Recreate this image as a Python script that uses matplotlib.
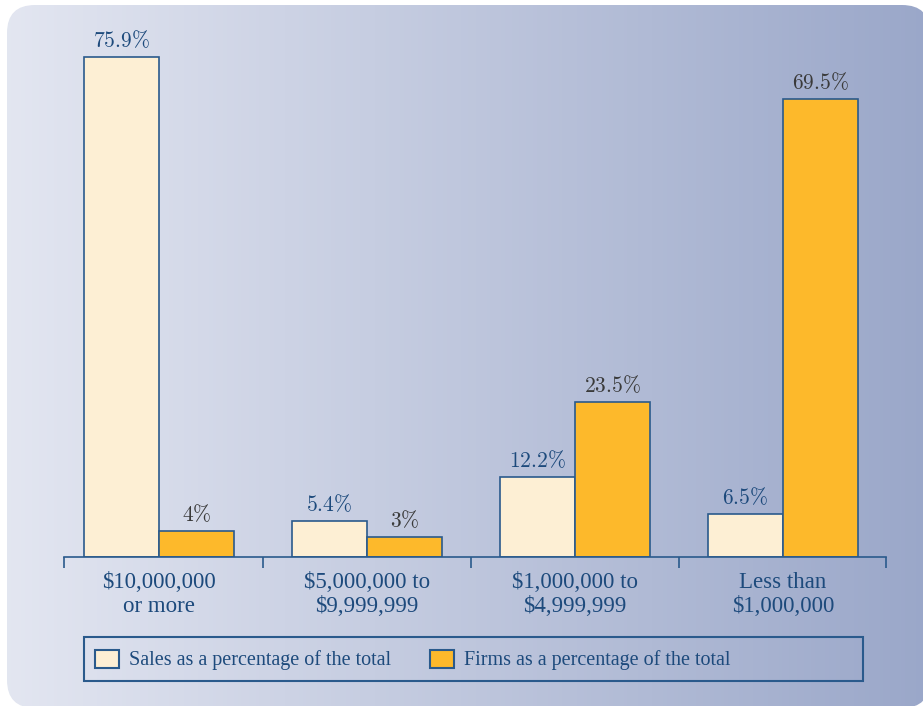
import numpy as np
import matplotlib
matplotlib.use("Agg")
import matplotlib.pyplot as plt
from matplotlib.patches import FancyBboxPatch, Patch, Rectangle

plt.rcParams['mathtext.fontset'] = 'cm'

categories = ["$10,000,000\nor more", "$5,000,000 to\n$9,999,999",
              "$1,000,000 to\n$4,999,999", "Less than\n$1,000,000"]
sales_pct = [75.9, 5.4, 12.2, 6.5]
firms_pct = [4, 3, 23.5, 69.5]
sales_labels = ["75.9%", "5.4%", "12.2%", "6.5%"]
firms_labels = ["4%", "3%", "23.5%", "69.5%"]

navy = "#2a5a8c"
text_blue = "#1d4a7c"
sales_color = "#fdefd4"
firms_color = "#fdb92b"

W, H = 923, 706
fig = plt.figure(figsize=(W / 100, H / 100), dpi=100)

# background panel with a left-to-right gradient and rounded corners
bg = fig.add_axes([0, 0, 1, 1])
bg.set_xlim(0, W)
bg.set_ylim(H, 0)
bg.axis('off')
grad = np.linspace(0, 1, 256).reshape(1, -1)
left = np.array([0.890, 0.902, 0.945])
right = np.array([0.604, 0.655, 0.788])
img = left[None, None, :] * (1 - grad[..., None]) + right[None, None, :] * grad[..., None]
im = bg.imshow(img, extent=(7, 930, 708, 5), aspect='auto')
panel = FancyBboxPatch((7, 5), 923, 703,
                       boxstyle="round,pad=0,rounding_size=28",
                       transform=bg.transData, facecolor='none', edgecolor='none')
bg.add_patch(panel)
im.set_clip_path(panel)

# legend box outline
bg.add_patch(Rectangle((84, 637), 863 - 84, 681 - 637, facecolor='none',
                       edgecolor=navy, linewidth=1.5))

# main bar chart
ax = fig.add_axes([64 / W, 1 - 557 / H, (886 - 64) / W, (557 - 30) / H])
ax.patch.set_alpha(0)
x = np.arange(len(categories))
w = 0.36
ax.bar(x - w / 2, sales_pct, w, color=sales_color, edgecolor=navy, linewidth=1.2)
ax.bar(x + w / 2, firms_pct, w, color=firms_color, edgecolor=navy, linewidth=1.2)

serif = ['Liberation Serif', 'DejaVu Serif']
for i in range(len(categories)):
    ax.text(x[i] - w / 2, sales_pct[i] + 0.9, '$' + sales_labels[i].replace('%', r'\%') + '$',
            ha='center', va='bottom', fontsize=15.5, color=text_blue)
    ax.text(x[i] + w / 2, firms_pct[i] + 0.9, '$' + firms_labels[i].replace('%', r'\%') + '$',
            ha='center', va='bottom', fontsize=15.5, color='#3a3a3a')

ax.set_xlim(-0.457, 3.495)
ax.set_ylim(0, (557 - 30) / 6.588)
for s in ['top', 'right', 'left']:
    ax.spines[s].set_visible(False)
ax.spines['bottom'].set_color(navy)
ax.spines['bottom'].set_linewidth(1.2)
ax.set_yticks([])
ax.set_xticks([-0.457, 0.5, 1.5, 2.5, 3.495])
ax.set_xticklabels([])
ax.tick_params(axis='x', length=8, width=1.2, color=navy)
ax.set_xticks(x, minor=True)
ax.set_xticklabels(categories, minor=True, fontfamily=serif, fontsize=16.5,
                   color=text_blue, linespacing=1.2)
ax.tick_params(axis='x', which='minor', length=0, pad=10.5)

handles = [Patch(facecolor=sales_color, edgecolor=navy, linewidth=1.5,
                 label="Sales as a percentage of the total"),
           Patch(facecolor=firms_color, edgecolor=navy, linewidth=1.5,
                 label="Firms as a percentage of the total")]
leg = fig.legend(handles=handles, loc='center left', ncol=2,
                 bbox_to_anchor=(95 / W, 1 - 660 / H),
                 frameon=False, prop={'family': serif, 'size': 14.5},
                 handlelength=1.2, handleheight=1.0, handletextpad=0.5,
                 borderpad=0, borderaxespad=0, columnspacing=1.9)
for t in leg.get_texts():
    t.set_color(text_blue)

fig.savefig("out.png", dpi=100)
